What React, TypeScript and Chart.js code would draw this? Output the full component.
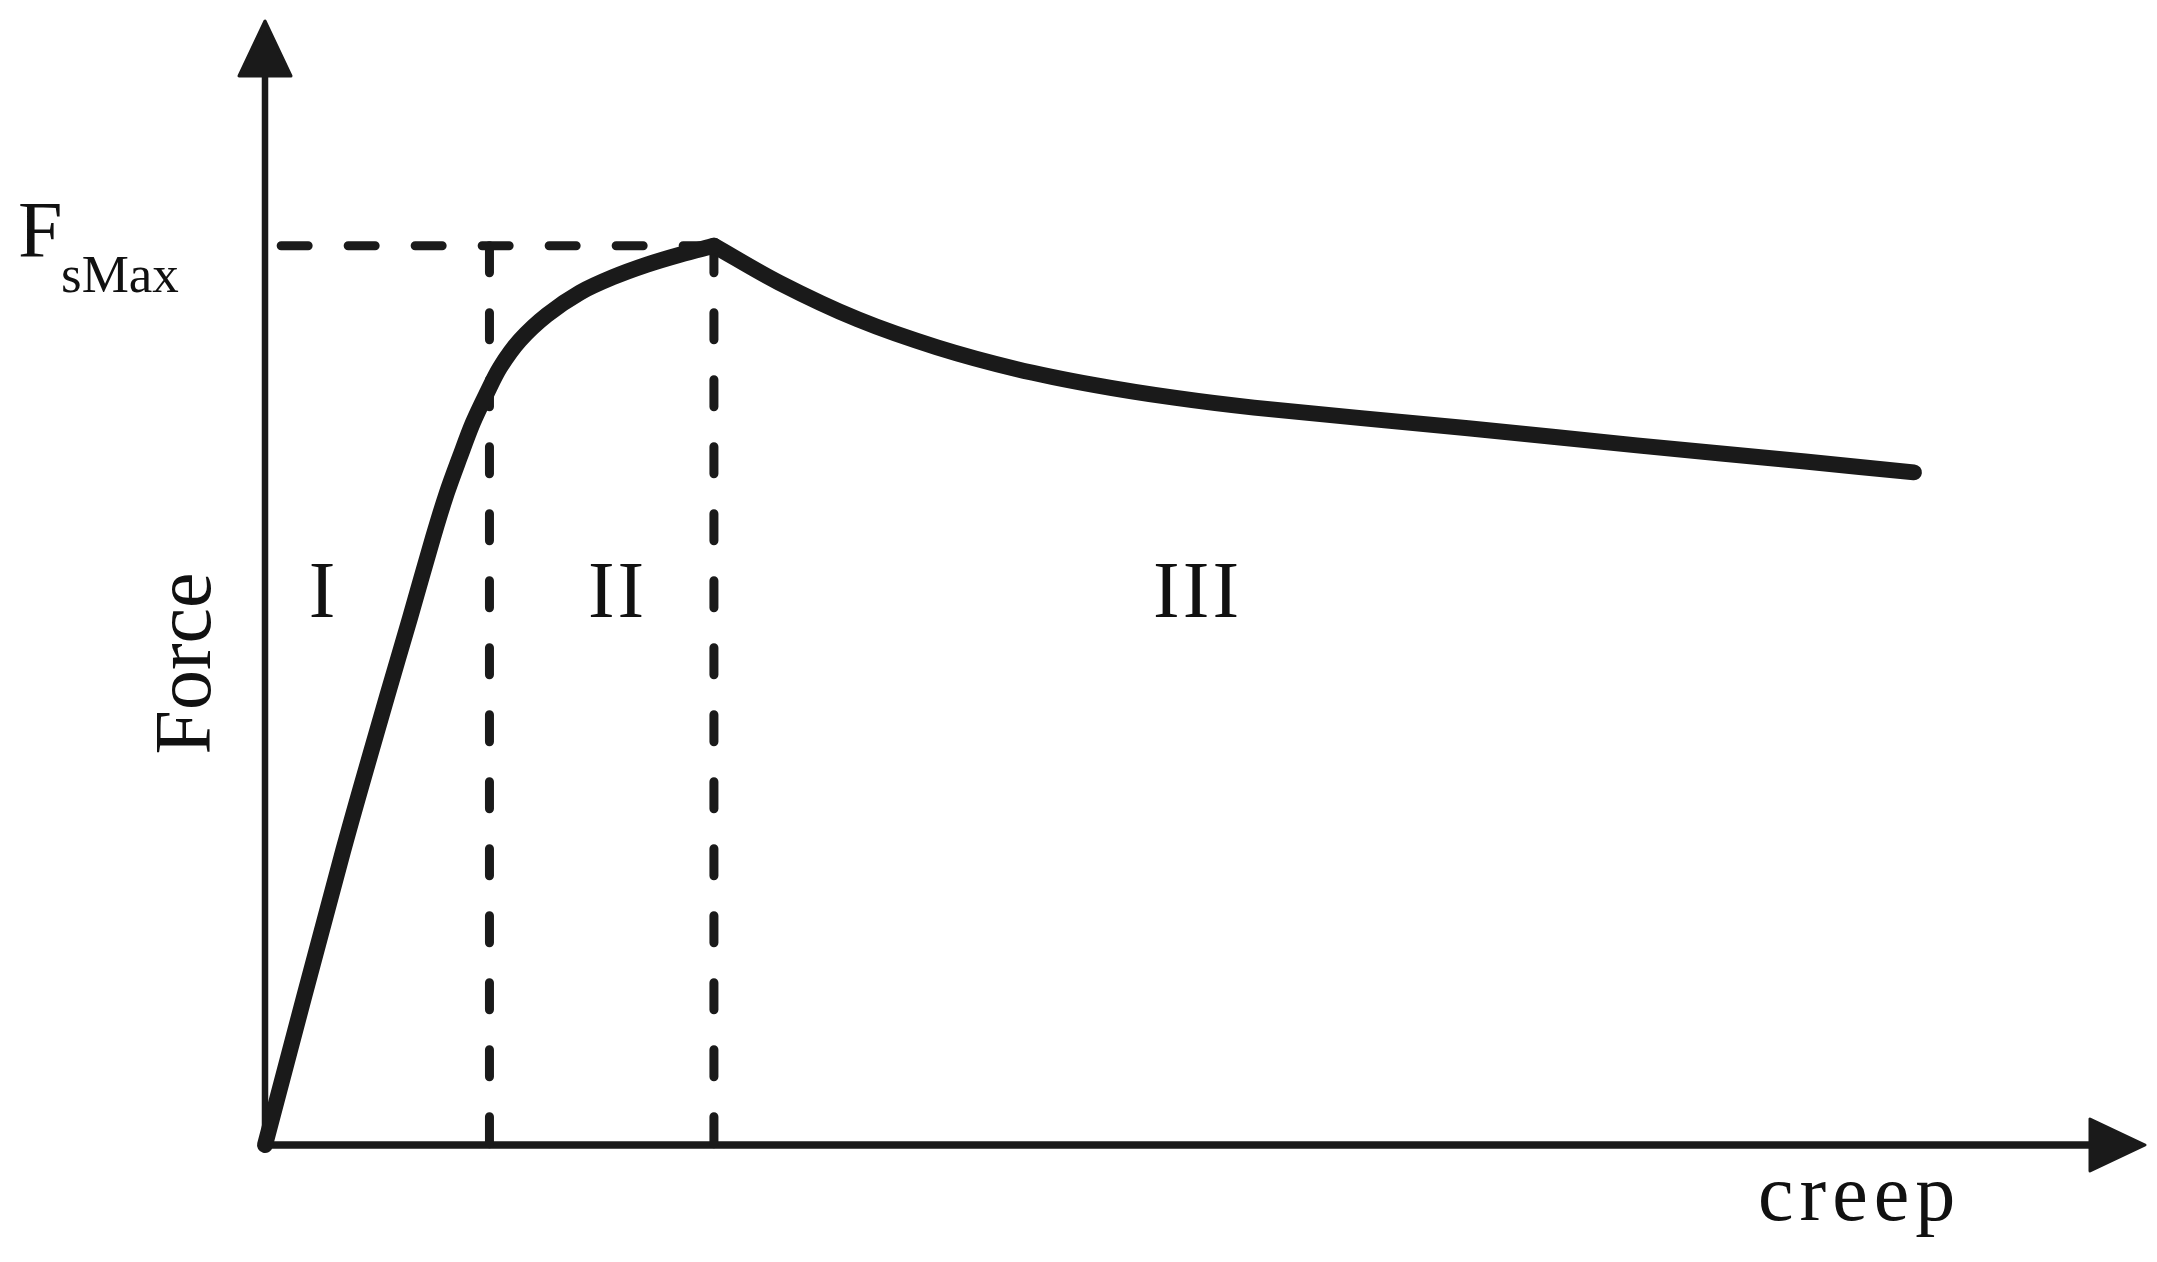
import React, { useEffect, useRef } from "react";
import { Chart, registerables } from "chart.js";

Chart.register(...registerables);

// ---- data (x: creep, arbitrary units; y: force, FsMax = 1) ----
const RISE_X = [0, 0.174, 0.272, 0.323, 0.374, 0.405, 0.434, 0.463, 0.494, 0.524, 0.568, 0.628, 0.702, 0.775, 0.851, 0.924, 1.0];
const RISE_Y = [0, 0.327, 0.499, 0.586, 0.675, 0.725, 0.765, 0.803, 0.836, 0.865, 0.895, 0.923, 0.948, 0.965, 0.979, 0.99, 1.0];
const DECAY_X = [1.0, 1.145, 1.321, 1.497, 1.673, 1.849, 2.025, 2.203, 2.68, 3.056, 3.431, 3.673];
const DECAY_Y = [1.0, 0.959, 0.918, 0.887, 0.863, 0.845, 0.831, 0.82, 0.797, 0.778, 0.76, 0.748];
const FS_MAX = 1.0;
const FS_LINE_X = [0.036, 1.0];
const BOUNDARY_X = [0.5, 1.0];
const REGION_LABELS = ["I", "II", "III"];
const REGION_LABEL_X = [0.127, 0.782, 2.074];
const REGION_LABEL_Y = 0.587;
const X_MAX = 4.19;
const Y_MAX = 1.251;

const INK = "#1a1a1a";
const FONT = '"Liberation Serif", "DejaVu Serif", serif';

const toPts = (xs: number[], ys: number[]) => xs.map((x, i) => ({ x, y: ys[i] }));

const decorPlugin = {
  id: "decor",
  beforeDraw(chart: any) {
    const { ctx, width, height } = chart;
    ctx.save();
    ctx.fillStyle = "#ffffff";
    ctx.fillRect(0, 0, width, height);
    ctx.restore();
  },
  beforeDatasetsDraw(chart: any) {
    const { ctx, chartArea } = chart;
    const xs = chart.scales.x;
    const ys = chart.scales.y;
    const x0 = xs.getPixelForValue(0);
    const y0 = ys.getPixelForValue(0);
    const top = chartArea.top;
    const right = chartArea.right;
    const aLen = 56;
    const aHalf = 27;
    ctx.save();
    ctx.strokeStyle = INK;
    ctx.fillStyle = INK;
    ctx.lineCap = "butt";
    // y axis
    ctx.lineWidth = 6.5;
    ctx.beginPath();
    ctx.moveTo(x0, y0 + 3);
    ctx.lineTo(x0, top + aLen - 4);
    ctx.stroke();
    // x axis
    ctx.lineWidth = 7.5;
    ctx.beginPath();
    ctx.moveTo(x0 - 3, y0);
    ctx.lineTo(right - aLen + 4, y0);
    ctx.stroke();
    // arrowheads
    ctx.lineJoin = "round";
    ctx.lineWidth = 3;
    ctx.beginPath();
    ctx.moveTo(x0, top + 1);
    ctx.lineTo(x0 - aHalf + 1, top + aLen);
    ctx.lineTo(x0 + aHalf - 1, top + aLen);
    ctx.closePath();
    ctx.fill();
    ctx.stroke();
    ctx.beginPath();
    ctx.moveTo(right - 1, y0);
    ctx.lineTo(right - aLen, y0 - aHalf + 1);
    ctx.lineTo(right - aLen, y0 + aHalf - 1);
    ctx.closePath();
    ctx.fill();
    ctx.stroke();
    ctx.restore();
  },
  afterDraw(chart: any) {
    const { ctx, chartArea } = chart;
    const xs = chart.scales.x;
    const ys = chart.scales.y;
    const x0 = xs.getPixelForValue(0);
    const yF = ys.getPixelForValue(FS_MAX);
    ctx.save();
    ctx.fillStyle = "#111111";
    ctx.textBaseline = "alphabetic";
    // F_sMax label
    ctx.textAlign = "left";
    ctx.font = `80px ${FONT}`;
    ctx.fillText("F", x0 - 247, yF + 11);
    ctx.font = `53px ${FONT}`;
    ctx.fillText("sMax", x0 - 204, yF + 46);
    // Force (rotated)
    ctx.save();
    ctx.translate(x0 - 55, (chartArea.top + chartArea.bottom) / 2 + 81);
    ctx.rotate(-Math.PI / 2);
    ctx.textAlign = "center";
    ctx.font = `80px ${FONT}`;
    ctx.fillText("Force", 0, 0);
    ctx.restore();
    // region labels
    ctx.font = `80px ${FONT}`;
    REGION_LABELS.forEach((t, i) => {
      const px = xs.getPixelForValue(REGION_LABEL_X[i]);
      const py = ys.getPixelForValue(REGION_LABEL_Y);
      const gap = 3;
      const chars = [...t];
      const widths = chars.map((c) => ctx.measureText(c).width);
      const total = widths.reduce((a, b) => a + b, 0) + gap * (chars.length - 1);
      let sx = px - total / 2;
      ctx.textAlign = "left";
      chars.forEach((c, k) => {
        ctx.fillText(c, sx, py);
        sx += widths[k] + gap;
      });
    });
    // creep (letter-spaced)
    ctx.textAlign = "left";
    const word = "creep";
    let cx = 1758;
    const by = chartArea.bottom + 75;
    for (const ch of word) {
      ctx.fillText(ch, cx, by);
      cx += ctx.measureText(ch).width + 6;
    }
    ctx.restore();
  },
};

export default function App() {
  const ref = useRef<HTMLCanvasElement | null>(null);
  useEffect(() => {
    if (!ref.current) return;
    const dashStyle = {
      borderColor: INK,
      backgroundColor: INK,
      borderWidth: 9,
      borderDash: [27, 40],
      borderCapStyle: "round",
      pointRadius: 0,
      pointHoverRadius: 0,
      tension: 0,
      fill: false,
      clip: false,
      order: 2,
    };
    const curveStyle = {
      borderColor: INK,
      backgroundColor: INK,
      borderWidth: 16,
      borderCapStyle: "round",
      borderJoinStyle: "round",
      pointRadius: 0,
      pointHoverRadius: 0,
      tension: 0.33,
      fill: false,
      clip: false,
      order: 0,
    };
    const chart = new Chart(ref.current, {
      type: "line",
      data: {
        datasets: [
          { ...curveStyle, label: "rise", data: toPts(RISE_X, RISE_Y) },
          { ...curveStyle, label: "decay", data: toPts(DECAY_X, DECAY_Y) },
          { ...dashStyle, label: "FsMax", data: toPts(FS_LINE_X, [FS_MAX, FS_MAX]) },
          ...BOUNDARY_X.map((bx, i) => ({
            ...dashStyle,
            label: "boundary" + i,
            data: toPts([bx, bx], [FS_MAX, 0]),
          })),
        ] as any,
      },
      options: {
        animation: false,
        responsive: false,
        devicePixelRatio: 1,
        layout: { padding: { left: 265, right: 11, top: 20, bottom: 117 } },
        scales: {
          x: { type: "linear", min: 0, max: X_MAX, display: false },
          y: { type: "linear", min: 0, max: Y_MAX, display: false },
        },
        plugins: {
          legend: { display: false },
          title: { display: false },
          tooltip: { enabled: false },
        },
        events: [],
      } as any,
      plugins: [decorPlugin],
    });
    return () => chart.destroy();
  }, []);
  return (
    <div style={{ position: "fixed", left: 0, top: 0, width: 2157, height: 1262, background: "#fff" }}>
      <canvas ref={ref} width={2157} height={1262} style={{ display: "block", width: 2157, height: 1262 }} />
    </div>
  );
}
